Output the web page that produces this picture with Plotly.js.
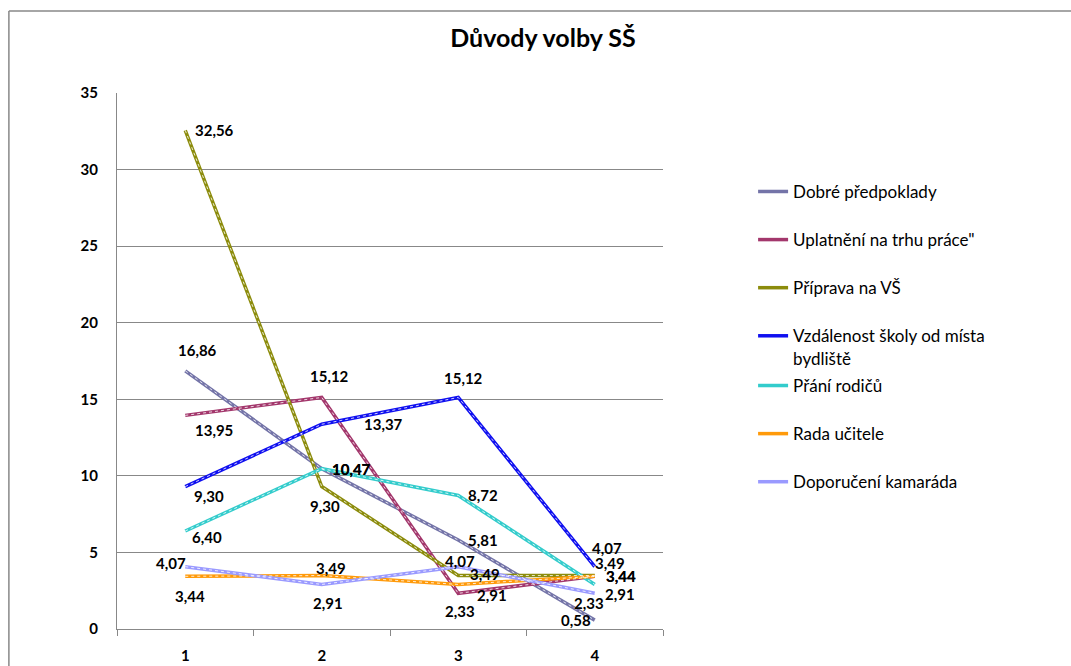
<!DOCTYPE html>
<html>
<head>
<meta charset="utf-8">
<script src="https://cdn.plot.ly/plotly-3.0.1.min.js"></script>
<style>html,body{margin:0;padding:0;background:#fff;}#chart{width:1071px;height:666px;}</style>
</head>
<body>
<div id="chart"></div>
<script>
const categories = ['1', '2', '3', '4'];
const seriesNames = ['Dobré předpoklady', 'Uplatnění na trhu práce"', 'Příprava na VŠ', 'Vzdálenost školy od místa<br>bydliště', 'Přání rodičů', 'Rada učitele', 'Doporučení kamaráda'];
const dobrePredpoklady = [16.86, 10.47, 5.81, 0.58];
const uplatneni = [13.95, 15.12, 2.33, 3.44];
const pripravaVS = [32.56, 9.30, 3.49, 3.49];
const vzdalenost = [9.30, 13.37, 15.12, 4.07];
const praniRodicu = [6.40, 10.47, 8.72, 2.91];
const radaUcitele = [3.44, 3.49, 2.91, 3.44];
const doporuceniKamarada = [4.07, 2.91, 4.07, 2.33];

const allValues = [dobrePredpoklady, uplatneni, pripravaVS, vzdalenost, praniRodicu, radaUcitele, doporuceniKamarada];
const colors = ['#7474A8', '#A3376C', '#8C8C0C', '#1010F0', '#33CCCC', '#FF9A0A', '#9A9AFF'];
// label offsets [dx, dy] in pixels (dy positive = up), per series and category
const labelOffsets = [
  [[12, 21], [30, 0], [25, 0], [-19, 0]],
  [[29, -15], [8, 21], [2, -18], [26, 0]],
  [[29, 0], [3, -19], [27, 2], [15, 13]],
  [[24, -9], [62, 0], [5, 19], [12, 19]],
  [[22, -6], [30, 0], [25, 0], [25, -10]],
  [[5, -20], [9, 8], [34, -11], [26, 0]],
  [[-14, 4], [6, -19], [2, 6], [-6, -10]]
];

function fmt(v) { return v.toFixed(2).replace('.', ','); }

const traces = [];
allValues.forEach((vals, i) => {
  traces.push({
    x: categories, y: vals, type: 'scatter', mode: 'lines',
    name: seriesNames[i], legend: i < 4 ? 'legend' : 'legend2',
    legendgroup: 'g' + i,
    line: {color: colors[i], width: 3.5},
    hoverinfo: 'skip'
  });
});
allValues.forEach((vals, i) => {
  traces.push({
    x: categories, y: vals, type: 'scatter', mode: 'lines',
    showlegend: false,
    line: {color: 'rgba(255,255,255,0.8)', width: 1, dash: 'dot'},
    hoverinfo: 'skip'
  });
});

const annotations = [];
allValues.forEach((vals, i) => {
  vals.forEach((v, j) => {
    annotations.push({
      x: j, y: v, xref: 'x', yref: 'y',
      text: fmt(v), showarrow: false,
      xanchor: 'center', yanchor: 'middle',
      xshift: labelOffsets[i][j][0], yshift: labelOffsets[i][j][1],
      font: {family: 'Lato, Carlito, sans-serif', size: 15, color: '#000', weight: 'bold'}
    });
  });
});

const legendCommon = {
  xanchor: 'left', yanchor: 'top', valign: 'top',
  font: {family: 'Lato, Carlito, sans-serif', size: 17, color: '#000'},
  tracegroupgap: 23, itemwidth: 30, bgcolor: 'rgba(0,0,0,0)'
};

const layout = {
  width: 1071, height: 666,
  margin: {l: 117, r: 408, t: 93, b: 37},
  paper_bgcolor: '#fff', plot_bgcolor: '#fff',
  font: {family: 'Lato, Carlito, sans-serif', color: '#000'},
  title: {
    text: 'Důvody volby SŠ', xref: 'container', x: 0.507, xanchor: 'center',
    yref: 'container', y: 0.942, yanchor: 'middle',
    font: {family: 'Lato, sans-serif', size: 25, weight: 'bold', color: '#000'}
  },
  xaxis: {
    type: 'category', range: [-0.5, 3.5],
    showgrid: false, zeroline: false,
    showline: true, linecolor: '#888', linewidth: 1,
    ticks: 'outside', tickson: 'boundaries', ticklen: 6, tickcolor: '#888',
    ticklabelstandoff: 13,
    tickfont: {size: 15, weight: 'bold', color: '#000'}
  },
  yaxis: {
    range: [0, 35], dtick: 5, tick0: 0,
    showgrid: true, gridcolor: '#888', gridwidth: 1,
    zeroline: false, showline: true, linecolor: '#888', linewidth: 1,
    ticks: '', ticklabelstandoff: 15,
    tickfont: {size: 15, weight: 'bold', color: '#000'}
  },
  legend: Object.assign({x: 1.165, y: 0.849}, legendCommon),
  legend2: Object.assign({x: 1.165, y: 0.487}, legendCommon),
  annotations: annotations,
  shapes: [
    {type: 'line', xref: 'paper', yref: 'paper', x0: -0.198, x1: -0.198, y0: -0.2, y1: 1.153,
     line: {color: '#888', width: 1.5}, layer: 'above'},
    {type: 'line', xref: 'paper', yref: 'paper', x0: -0.198, x1: 1.8, y0: 1.153, y1: 1.153,
     line: {color: '#888', width: 1.5}, layer: 'above'}
  ]
};

Plotly.newPlot('chart', traces, layout, {displayModeBar: false, staticPlot: true});
</script>
</body>
</html>
